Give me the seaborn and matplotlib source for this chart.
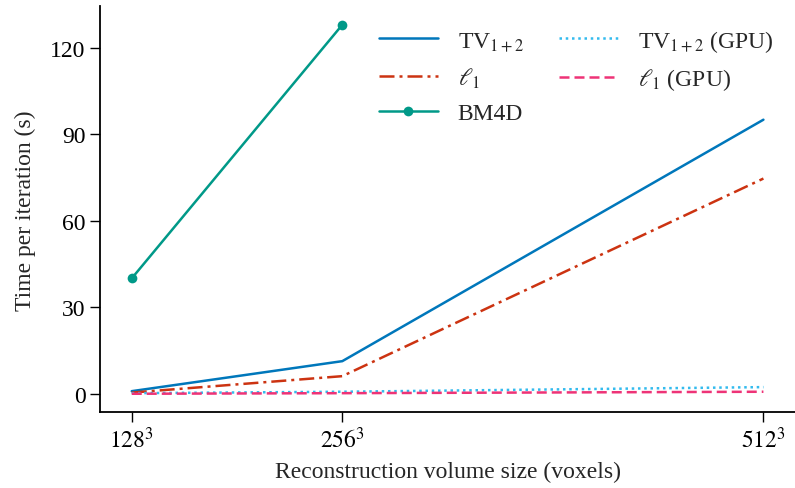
import matplotlib
matplotlib.use("Agg")
import matplotlib.pyplot as plt
import seaborn as sns

sizes = [128, 256, 512]
size_labels = [r"$128^3$", r"$256^3$", r"$512^3$"]
tv = [1.0, 11.4, 95.1]
l1 = [0.5, 6.2, 74.7]
bm4d_sizes = [128, 256]
bm4d = [40.1, 128.0]
tv_gpu = [0.3, 0.8, 2.4]
l1_gpu = [0.1, 0.3, 0.8]

sns.set_style("ticks")
plt.rcParams["font.family"] = ["Liberation Serif", "DejaVu Serif"]
plt.rcParams["mathtext.fontset"] = "stix"
plt.rcParams["font.size"] = 16

fig = plt.figure(figsize=(7.95, 4.89), dpi=100)
ax = fig.add_axes([0.126, 0.155, 0.874, 0.83])

vib_blue = "#0077BB"
vib_red = "#CC3311"
vib_teal = "#009988"
vib_cyan = "#33BBEE"
vib_mag = "#EE3377"

sns.lineplot(x=sizes, y=tv, ax=ax, color=vib_blue, lw=1.8, label=r"TV$_{1+2}$")
sns.lineplot(x=sizes, y=l1, ax=ax, color=vib_red, lw=1.8, linestyle=(0, (6, 2, 1.2, 2)), label=r"$\ell_1$")
sns.lineplot(x=bm4d_sizes, y=bm4d, ax=ax, color=vib_teal, lw=1.8, marker="o", markersize=7,
             markeredgewidth=0, label="BM4D")
sns.lineplot(x=sizes, y=tv_gpu, ax=ax, color=vib_cyan, lw=1.8, linestyle=(0, (1, 1.5)), label=r"TV$_{1+2}$ (GPU)")
sns.lineplot(x=sizes, y=l1_gpu, ax=ax, color=vib_mag, lw=1.8, linestyle=(0, (4, 2)), label=r"$\ell_1$ (GPU)")

ax.set_xticks(sizes)
ax.set_xticklabels(size_labels)
ax.set_yticks([0, 30, 60, 90, 120])
ax.set_xlabel("Reconstruction volume size (voxels)", fontsize=17, labelpad=6)
ax.set_ylabel("Time per iteration (s)", fontsize=17, labelpad=10)
ax.tick_params(labelsize=17, colors="black", length=7, width=1.0)
sns.despine(ax=ax, offset=0)
for s in ("left", "bottom"):
    ax.spines[s].set_linewidth(1.3)
    ax.spines[s].set_color("black")

ax.legend(ncol=2, frameon=False, loc="upper right", bbox_to_anchor=(1.0, 1.0),
          fontsize=17, handlelength=2.5, columnspacing=1.5, labelspacing=0.55,
          handletextpad=0.85)

fig.savefig("out.png", dpi=100)
